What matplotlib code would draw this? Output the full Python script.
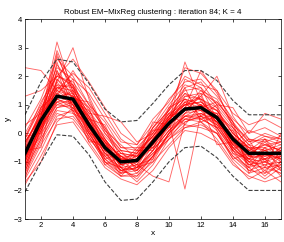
import matplotlib
matplotlib.use('Agg')
import matplotlib.pyplot as plt
import numpy as np

plt.rcParams['font.family'] = ['Liberation Sans', 'DejaVu Sans']

x = np.arange(1, 18)

# cluster mean and bounds
mean = [-0.7, 0.45, 1.3, 1.2, 0.3, -0.5, -1.0, -0.95, -0.3, 0.35, 0.85, 0.9, 0.55, -0.2, -0.7, -0.7, -0.7]
upper = [0.65, 1.8, 2.6, 2.5, 1.75, 0.85, 0.4, 0.45, 1.05, 1.7, 2.2, 2.2, 1.85, 1.15, 0.65, 0.65, 0.65]
lower = [-2.05, -1.0, -0.05, -0.1, -0.75, -1.7, -2.35, -2.3, -1.7, -1.0, -0.5, -0.45, -0.85, -1.5, -2.0, -2.0, -2.0]

# curves of the cluster
curves = [
    [-0.5, 0.8, 2.1, 1.6, 0.5, -0.3, -0.8, -1.1, -0.2, 0.6, 1.2, 1.0, 0.4, -0.4, -0.9, -0.5, -0.8],
    [-1.2, 0.1, 1.0, 0.9, 0.2, -0.7, -1.3, -1.2, -0.6, 0.1, 0.5, 0.7, 0.3, -0.5, -1.1, -1.0, -1.2],
    [0.2, 1.2, 2.6, 2.0, 1.0, 0.1, -0.6, -0.7, 0.0, 0.9, 1.5, 1.6, 1.0, 0.3, -0.3, -0.2, -0.4],
    [-1.5, -0.4, 0.5, 0.6, -0.1, -1.0, -1.5, -1.4, -0.8, -0.2, 0.3, 0.2, 0.0, -0.8, -1.3, -1.4, -1.1],
    [-0.8, 0.6, 3.2, 1.4, 0.3, -0.4, -1.1, -0.9, -0.4, 0.4, 2.5, 1.1, 0.6, -0.1, -0.8, -0.6, -0.9],
    [2.3, 2.2, 1.5, 1.1, 0.8, -0.2, -0.9, -1.0, -0.3, 0.2, 0.9, 0.8, 0.7, 0.0, -0.5, -0.9, -0.6],
    [-0.3, 0.5, 1.8, 3.0, 1.2, 0.0, -0.7, -0.8, -0.1, 0.7, 1.0, 1.3, 2.0, 0.6, -0.2, -0.4, -0.3],
    [-1.0, 0.3, 1.4, 1.0, 0.0, -0.8, -1.2, -1.6, -0.9, 0.0, 0.6, 0.5, 0.2, -0.6, -0.9, -1.3, -0.8],
    [-0.6, 0.4, 1.2, 1.5, 0.7, -0.2, -0.9, -0.7, -0.1, 0.5, 1.1, 1.2, 0.8, 0.1, -0.6, -0.2, -0.7],
    [-1.8, -0.8, 0.3, 0.4, -0.4, -1.2, -1.6, -1.8, -1.3, -0.5, 0.1, 0.0, -0.3, -1.1, -1.5, -1.7, -1.5],
    [0.0, 1.0, 2.3, 1.9, 1.4, 0.5, -0.3, -0.4, 0.3, 1.2, 1.8, 1.9, 1.3, 0.5, 0.0, 0.2, -0.1],
    [-0.9, 0.2, 1.1, 1.1, 0.2, -0.6, -1.1, -1.0, -0.5, 0.3, 0.7, 1.0, 0.5, -0.3, -0.8, -0.8, -0.6],
    [-0.4, 0.7, 1.6, 1.3, 0.6, -0.4, -0.8, -1.2, -0.2, 0.5, 0.9, 0.9, 0.4, -0.2, -0.5, -0.9, -0.5],
    [-1.3, -0.2, 0.8, 0.7, 0.0, -0.9, -1.4, -1.3, -0.7, -0.1, 0.4, 0.6, 0.1, -0.7, -1.2, -1.0, -1.3],
    [1.3, 1.5, 2.0, 1.8, 1.0, 0.4, -0.5, -0.6, 0.2, 0.8, 2.3, 2.1, 1.5, 0.2, -0.4, -0.1, -0.2],
    [-0.7, 0.4, 2.8, 1.3, 0.4, -0.6, -1.0, -0.9, -0.4, 0.3, 0.8, 0.9, 0.6, -0.3, -0.7, -0.8, -0.7],
    [-1.1, 0.0, 0.9, 1.0, 0.3, -0.3, -1.2, -1.1, -1.5, -1.7, 0.4, 0.6, 0.4, -0.4, -1.0, -1.5, -1.0],
    [-0.2, 0.9, 1.7, 1.6, 0.9, 0.2, -0.5, -0.5, 0.1, 0.7, 1.3, 1.4, 1.1, 0.4, -0.3, 0.0, -0.2],
    [-0.8, 0.2, 1.3, 1.2, 0.1, -0.7, -1.0, -0.8, -0.2, 0.4, -1.95, 0.7, 0.5, -0.3, -0.9, -0.7, -0.9],
    [-1.6, -0.6, 0.6, 0.8, -0.3, -1.1, -1.5, -1.5, -1.0, -0.4, 0.2, 0.3, 0.0, -0.9, -1.4, -1.2, -1.4],
    [-0.5, 0.5, 1.5, 2.1, 1.6, 0.7, -0.2, -0.6, -0.1, 0.6, 1.0, 1.1, 0.6, -0.1, -0.6, -0.4, -0.6],
    [-0.3, 0.6, 2.4, 1.7, 0.6, -0.1, -0.7, -0.8, 0.0, 0.8, 1.4, 1.2, 0.9, 0.2, -0.4, -0.6, -0.4],
    [-1.0, 0.1, 1.2, 0.9, 0.0, -0.9, -1.3, -1.2, -0.6, 0.1, 0.7, 0.8, 0.2, -0.5, -1.0, -1.1, -1.0],
    [-0.6, 0.3, 1.9, 1.4, 0.5, -0.5, -0.9, -1.0, -0.3, 0.4, 1.6, 1.8, 1.0, 0.9, 0.0, 0.7, 0.5],
    [-1.4, -0.3, 0.7, 0.5, -0.2, -0.8, -1.3, -1.5, -0.8, 0.0, 0.5, 0.4, 0.0, -0.8, -1.2, -1.6, -1.2],
    [-0.1, 0.9, 2.0, 1.7, 0.8, 0.0, -0.6, -0.7, 0.2, 1.0, 1.7, 1.5, 1.2, 0.3, -0.2, -0.3, -0.1],
    [-0.9, 0.3, 1.0, 1.2, 0.4, -0.5, -1.1, -0.9, -0.5, 0.2, 0.6, 0.9, 0.7, -0.2, -0.8, -0.9, -0.8],
    [-0.7, 0.5, 1.4, 1.1, 0.2, -0.6, -0.8, -1.1, -0.3, 0.5, 1.0, 0.8, 0.5, -0.4, -0.6, -0.7, -0.9],
    [-1.2, -0.1, 1.1, 0.8, -0.1, -1.0, -1.4, -1.2, -0.7, -0.2, 0.5, 0.5, 0.2, -0.6, -1.1, -1.2, -1.1],
    [-0.4, 0.8, 1.6, 1.5, 0.7, 0.6, 0.4, -0.3, 0.0, 0.6, 1.2, 1.0, 0.8, 0.0, -0.5, -0.5, -0.3],
    [-0.8, 0.4, 2.2, 1.2, 0.3, -0.4, -1.0, -1.0, -0.2, 0.3, 0.9, 2.2, 1.4, 0.4, -0.6, -0.8, -0.7],
    [-1.1, 0.1, 1.2, 1.0, 0.1, -0.7, -1.2, -1.3, -0.8, 0.0, 0.6, 0.6, 0.3, -0.5, -1.0, -0.9, -1.2],
    [-0.6, 0.6, 1.5, 1.3, 0.5, -0.2, -0.9, -0.9, -0.2, 0.5, 1.0, 1.1, 0.8, 0.0, -0.5, -0.6, -0.5],
    [-1.0, 0.2, 1.3, 1.4, 0.6, -0.3, -1.0, -1.0, -0.4, 0.3, 0.8, 1.0, 0.5, -0.2, -0.9, -1.0, -0.8],
    [-0.3, 0.6, 2.9, 1.6, 0.4, -0.3, -0.8, -0.8, -0.3, 0.5, 1.1, 0.9, 0.4, -0.1, -0.7, -0.4, -0.6],
    [-1.3, -0.2, 0.9, 1.1, 0.2, -0.5, -1.1, -1.3, -0.6, 0.1, 0.6, 0.7, 0.4, -0.6, -1.3, -1.1, -1.4],
    [-1.7, -1.0, 0.4, 0.9, 0.1, -1.0, -1.2, -1.7, -1.1, -0.2, 0.2, 0.4, -0.2, -1.0, -1.6, -1.3, -1.7],
    [-0.2, 1.1, 2.0, 2.6, 1.8, 0.9, 0.0, -0.4, 0.5, 1.1, 2.0, 1.7, 1.5, 0.7, 0.3, 0.5, 0.2],
    [-0.9, 0.7, 1.8, 1.0, 0.6, -0.8, -0.6, -1.3, -0.4, 0.6, 0.8, 1.3, 0.3, -0.1, -1.0, -0.6, -1.0],
    [-0.5, 0.2, 1.6, 1.7, 0.0, -0.2, -1.2, -0.6, -0.6, 0.9, 1.2, 0.6, 1.0, -0.5, -0.4, -1.0, -0.5],
    [-1.4, 0.5, 1.1, 1.3, 0.9, -0.6, -1.5, -0.9, 0.1, 0.2, 1.3, 1.2, 0.2, 0.1, -1.2, -0.5, -1.3],
    [-0.1, 0.0, 2.5, 0.8, 0.5, 0.3, -0.9, -1.4, -0.8, 0.4, 0.9, 1.5, 0.9, -0.6, -0.2, -1.2, 0.0],
    [-1.0, 0.9, 1.4, 1.9, 0.2, -0.9, -0.7, -1.0, 0.2, 0.8, 1.6, 0.4, 0.6, 0.2, -0.8, -0.3, -0.9],
    [-0.6, -0.5, 1.9, 1.2, 1.1, 0.2, -1.1, -0.5, -0.5, -0.1, 0.7, 1.4, 0.1, -0.9, -0.7, -1.4, -0.6],
    [-1.2, 0.4, 2.7, 1.5, -0.2, -0.5, -1.3, -1.1, -0.9, 0.6, 1.4, 0.9, 1.1, 0.4, -1.4, -0.7, -1.1],
    [0.3, 0.7, 1.3, 2.2, 1.3, 0.1, -0.4, -0.9, 0.4, 0.3, 1.9, 1.6, 0.5, -0.4, 0.1, -0.1, -0.3],
    [-0.8, -0.1, 2.2, 0.7, 0.4, -1.1, -0.8, -1.2, -1.0, 0.0, 1.1, 0.5, 0.7, -0.7, -0.9, -0.2, -1.0],
    [-1.6, 0.3, 1.7, 1.0, -0.3, -0.3, -1.4, -0.7, -0.1, 0.7, 0.3, 1.0, -0.4, -0.3, -1.1, -0.9, -1.5],
]

fig = plt.figure(figsize=(2.84, 2.42), dpi=100)
ax = fig.add_axes([0.088, 0.095, 0.901, 0.826])

for c in curves:
    ax.plot(x, c, color=(1, 0, 0), lw=0.65, alpha=0.6)

ax.plot(x, upper, '--', color='0.25', lw=0.8)
ax.plot(x, lower, '--', color='0.25', lw=0.8)
ax.plot(x, mean, color='k', lw=2.5)

ax.set_xlim(1, 17)
ax.set_ylim(-3, 4)
ax.set_xticks(np.arange(2, 17, 2))
ax.set_yticks(np.arange(-3, 5, 1))
ax.tick_params(direction='in', length=2.5, width=0.5, labelsize=5.5, pad=2,
               top=True, right=True)
for s in ax.spines.values():
    s.set_linewidth(0.5)
ax.set_xlabel('x', fontsize=6, labelpad=1)
ax.set_ylabel('y', fontsize=6, labelpad=1)
ax.set_title('Robust EM\u2212MixReg clustering : iteration 84; K = 4', fontsize=5.8, pad=4)

fig.savefig('out.png', dpi=100)
